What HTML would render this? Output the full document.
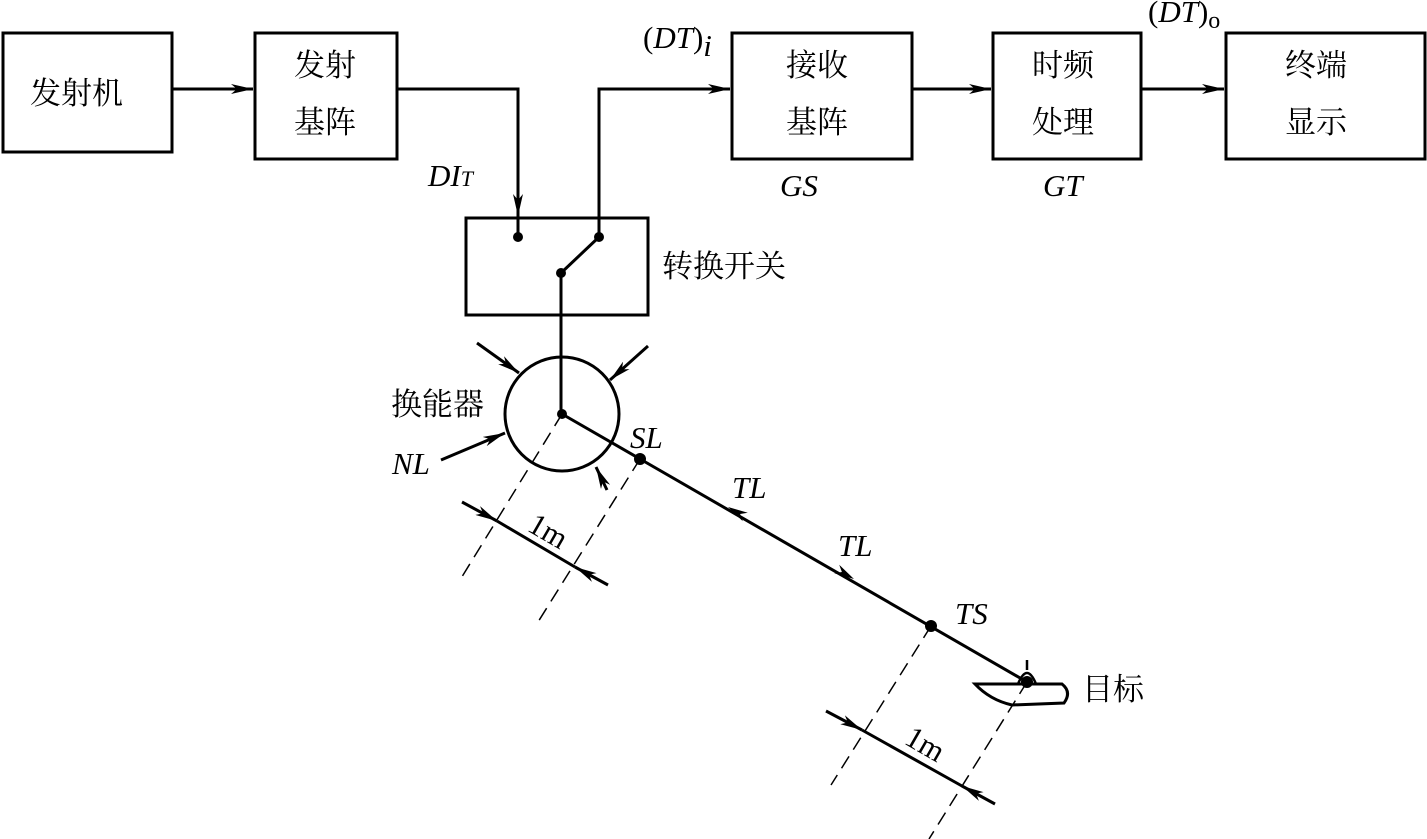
<!DOCTYPE html>
<html><head><meta charset="utf-8"><style>
html,body{margin:0;padding:0;background:#fff;width:1427px;height:839px;overflow:hidden}
svg{display:block}
.cn{font-family:"Liberation Serif","Noto Serif CJK SC",serif;font-size:31px;fill:#000}
.it{font-family:"Liberation Serif",serif;font-style:italic;font-size:31px;fill:#000}
.rm{font-family:"Liberation Serif",serif;font-size:31px;fill:#000}
</style></head><body>
<svg width="1427" height="839" viewBox="0 0 1427 839" xmlns="http://www.w3.org/2000/svg">
<defs>
<marker id="a" viewBox="0 0 22 10" refX="22" refY="5" markerWidth="22" markerHeight="10" markerUnits="userSpaceOnUse" orient="auto">
<path d="M0,0 L22,5 L0,10 L6,5 Z" fill="#000"/></marker>
</defs>
<g fill="none" stroke="#000" stroke-width="3">
<rect x="3" y="33" width="169" height="119"/>
<rect x="255" y="33" width="142" height="126"/>
<rect x="732" y="33" width="180" height="126"/>
<rect x="993" y="33" width="148" height="126"/>
<rect x="1226" y="33" width="199" height="126"/>
<rect x="466" y="218" width="182" height="97"/>
<line x1="172" y1="89" x2="253" y2="89" marker-end="url(#a)"/>
<polyline points="397,89 518,89 518,216" marker-end="url(#a)"/>
<line x1="518" y1="216" x2="518" y2="237"/>
<polyline points="599,237 599,89 730,89" marker-end="url(#a)"/>
<line x1="912" y1="89" x2="991" y2="89" marker-end="url(#a)"/>
<line x1="1141" y1="89" x2="1224" y2="89" marker-end="url(#a)"/>
<line x1="599" y1="237" x2="561" y2="273"/>
<line x1="561" y1="273" x2="561" y2="414"/>
<circle cx="562" cy="414" r="57"/>
<line x1="562" y1="414" x2="1027" y2="682"/>
<line x1="477" y1="343" x2="519" y2="373" marker-end="url(#a)"/>
<line x1="648" y1="346" x2="610" y2="380" marker-end="url(#a)"/>
<line x1="441" y1="460" x2="505" y2="433" marker-end="url(#a)"/>
<line x1="607" y1="490" x2="596" y2="467" marker-end="url(#a)"/>
<line x1="462" y1="502" x2="497" y2="521" marker-end="url(#a)"/>
<line x1="497" y1="521" x2="575" y2="567"/>
<line x1="608" y1="585" x2="575" y2="567" marker-end="url(#a)"/>
<line x1="826" y1="711" x2="862" y2="730" marker-end="url(#a)"/>
<line x1="862" y1="730" x2="962" y2="786"/>
<line x1="995" y1="804" x2="962" y2="786" marker-end="url(#a)"/>
<path d="M975,684 L1020,684 M1035,684 L1062,684 Q1072,692 1064,703 L1012,705 Q990,700 975,684 Z" stroke-width="3"/>
<path d="M1018,684 Q1027,662 1036,684" stroke-width="2.5"/>
<line x1="1027" y1="660" x2="1027" y2="670" stroke-width="2.5"/>
</g>
<g fill="#000">
<path d="M728,507 L742.8,521.3 L740.1,514 L747.8,512.7 Z"/>
<path d="M854,579 L834.2,573.3 L841.9,572 L839.2,564.7 Z"/>
</g>
<g stroke="#000" stroke-width="1.5" stroke-dasharray="14,8" fill="none">
<line x1="562" y1="414" x2="460" y2="580"/>
<line x1="640" y1="459" x2="538" y2="622"/>
<line x1="931" y1="626" x2="831" y2="785"/>
<line x1="1027" y1="682" x2="929" y2="839"/>
</g>
<g fill="#000">
<circle cx="518" cy="237" r="5"/><circle cx="599" cy="237" r="5"/><circle cx="561" cy="273" r="5"/>
<circle cx="562" cy="414" r="5"/><circle cx="640" cy="459" r="6"/><circle cx="931" cy="626" r="6"/><circle cx="1027" cy="682" r="6"/>
</g>
<text class="cn" x="30" y="104">发射机</text>
<text class="cn" x="294" y="76">发射</text><text class="cn" x="294" y="133">基阵</text>
<text class="cn" x="786" y="76">接收</text><text class="cn" x="786" y="133">基阵</text>
<text class="cn" x="1032" y="76">时频</text><text class="cn" x="1032" y="133">处理</text>
<text class="cn" x="1285" y="76">终端</text><text class="cn" x="1285" y="133">显示</text>
<text class="cn" x="662" y="277">转换开关</text>
<text class="cn" x="391" y="415">换能器</text>
<text class="cn" x="1082" y="700">目标</text>
<text class="rm" x="643" y="48">(<tspan class="it">DT</tspan>)<tspan class="it" font-size="22" dy="8">i</tspan></text>
<text class="rm" x="1148" y="22">(<tspan class="it">DT</tspan>)<tspan font-size="24" dy="6">o</tspan></text>
<text class="it" x="428" y="186">DI<tspan font-size="22">T</tspan></text>
<text class="it" x="780" y="196">GS</text>
<text class="it" x="1043" y="196">GT</text>
<text class="it" x="392" y="474">NL</text>
<text class="it" x="630" y="448">SL</text>
<text class="it" x="732" y="498">TL</text>
<text class="it" x="838" y="556">TL</text>
<text class="it" x="955" y="624">TS</text>
<text class="rm" transform="translate(526,530) rotate(30)">1m</text>
<text class="rm" transform="translate(903,743) rotate(30)">1m</text>
</svg>
</body></html>
